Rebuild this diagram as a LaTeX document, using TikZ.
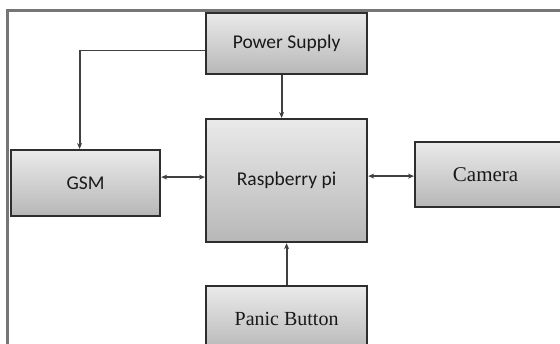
\documentclass[tikz,border=0pt]{standalone}
\usepackage{fontspec}
\setmainfont{Liberation Serif}
\newfontfamily\calib{Carlito}
\usetikzlibrary{arrows.meta}
\definecolor{frame}{HTML}{767676}
\definecolor{edge}{HTML}{2E2E2E}
\definecolor{boxtop}{HTML}{EAEAEA}
\definecolor{boxbot}{HTML}{B7B7B7}
\tikzset{
  blk/.style={draw=edge, line width=2.2pt, top color=boxtop, bottom color=boxbot,
    anchor=north west, inner sep=0pt, text=black!90},
  sanslbl/.style={font=\calib\fontsize{19.5}{22}\selectfont},
  seriflbl/.style={font=\fontsize{20}{23}\selectfont},
  conn/.style={draw=black!75, line width=1.8pt, -{Stealth[length=6pt,width=5pt]}},
  bconn/.style={draw=black!75, line width=1.8pt, {Stealth[length=6pt,width=5pt]}-{Stealth[length=6pt,width=5pt]}}
}
\begin{document}
\begin{tikzpicture}[x=1pt,y=-1pt]
\useasboundingbox (0,0) rectangle (560,344);
\clip (0,0) rectangle (560,344);
\fill[white] (0,0) rectangle (560,344);
\draw[frame, line width=3pt] (7,400) -- (7,11) -- (600,11);
\node[blk, sanslbl, minimum width=161pt, minimum height=61pt] (ps) at (205,12) {Power Supply};
\node[blk, sanslbl, minimum width=161pt, minimum height=123pt] (rpi) at (205,118) {Raspberry pi};
\node[blk, sanslbl, minimum width=149pt, minimum height=66pt] (gsm) at (10,149) {GSM};
\node[blk, seriflbl, minimum width=151pt, minimum height=65pt, text depth=0pt] (cam) at (414,141) {\hspace*{-10pt}\fontsize{21}{24}\selectfont Camera};
\node[blk, seriflbl, minimum width=161pt, minimum height=66pt] (pb) at (205,285) {Panic Button};
\draw[conn] ([yshift=-7pt]ps.west) -| ([xshift=-6pt]gsm.north);
\draw[conn] ([xshift=-5pt]ps.south) -- ([xshift=-5pt]rpi.north);
\draw[bconn] ([yshift=6pt]gsm.east) -- ([yshift=6pt]gsm.east -| rpi.west);
\draw[bconn] ([yshift=-1.5pt]cam.west) -- ([yshift=-1.5pt]cam.west -| rpi.east);
\draw[conn] (pb.north) -- (rpi.south);
\end{tikzpicture}
\end{document}
